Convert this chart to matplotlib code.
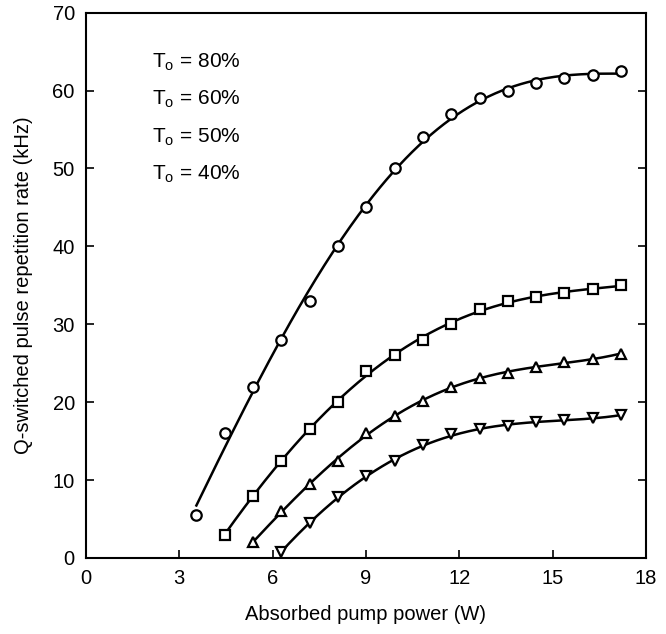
import matplotlib
matplotlib.use("Agg")
import matplotlib.pyplot as plt
import numpy as np

# absorbed pump power (W), shared grid
power = [3.55, 4.46, 5.37, 6.28, 7.19, 8.10, 9.01, 9.92, 10.83, 11.74, 12.65,
         13.56, 14.47, 15.38, 16.29, 17.20]

# repetition rate (kHz) for each output coupler transmission
rate_80 = [5.5, 16.0, 22.0, 28.0, 33.0, 40.0, 45.0, 50.0, 54.0, 57.0, 59.0,
           60.0, 61.0, 61.6, 62.0, 62.5]
power_60 = power[1:]
rate_60 = [3.0, 8.0, 12.5, 16.5, 20.0, 24.0, 26.0, 28.0, 30.0, 32.0, 33.0,
           33.5, 34.0, 34.5, 35.0]
power_50 = power[2:]
rate_50 = [2.0, 6.0, 9.5, 12.5, 16.0, 18.2, 20.2, 22.0, 23.1, 23.7, 24.5,
           25.1, 25.6, 26.2]
power_40 = power[3:]
rate_40 = [0.8, 4.5, 7.8, 10.5, 12.4, 14.5, 15.9, 16.5, 17.0, 17.4, 17.7,
           18.0, 18.3]

labels = ["T$_\\mathrm{o}$ = 80%", "T$_\\mathrm{o}$ = 60%",
          "T$_\\mathrm{o}$ = 50%", "T$_\\mathrm{o}$ = 40%"]

plt.rcParams["font.family"] = ["Liberation Sans", "DejaVu Sans"]
plt.rcParams["mathtext.fontset"] = "custom"
plt.rcParams["mathtext.rm"] = "Liberation Sans"
plt.rcParams["font.size"] = 14.5

fig = plt.figure(figsize=(6.66, 6.34), dpi=100)
ax = fig.add_axes([0.129, 0.12, 0.841, 0.86])

# smooth fitted curve through each series, drawn from first to last point
series = [(power, rate_80, "o", 4), (power_60, rate_60, "s", 4),
          (power_50, rate_50, "^", 4), (power_40, rate_40, "v", 4)]
for xs, ys, mk, deg in series:
    xs = np.asarray(xs)
    ys = np.asarray(ys)
    coef = np.polyfit(xs, ys, deg)
    xf = np.linspace(xs[0], xs[-1], 200)
    ax.plot(xf, np.polyval(coef, xf), color="black", lw=1.8, zorder=2)
    ax.plot(xs, ys, ls="none", marker=mk, ms=7.5 if mk != "s" else 6.5,
            mfc="white", mec="black", mew=1.6, zorder=3)

for i, lab in enumerate(labels):
    ax.text(0.118, 0.91 - i * 0.069, lab, transform=ax.transAxes,
            ha="left", va="center", fontsize=15)

ax.set_xlim(0, 18)
ax.set_ylim(0, 70)
ax.set_xticks(range(0, 19, 3))
ax.set_yticks(range(0, 71, 10))
ax.tick_params(direction="in", length=6, width=1.2, right=True, pad=8)
for sp in ax.spines.values():
    sp.set_linewidth(1.5)
ax.set_xlabel("Absorbed pump power (W)", labelpad=12)
ax.set_ylabel("Q-switched pulse repetition rate (kHz)", labelpad=14)

fig.savefig("out.png", dpi=100, facecolor="white")
